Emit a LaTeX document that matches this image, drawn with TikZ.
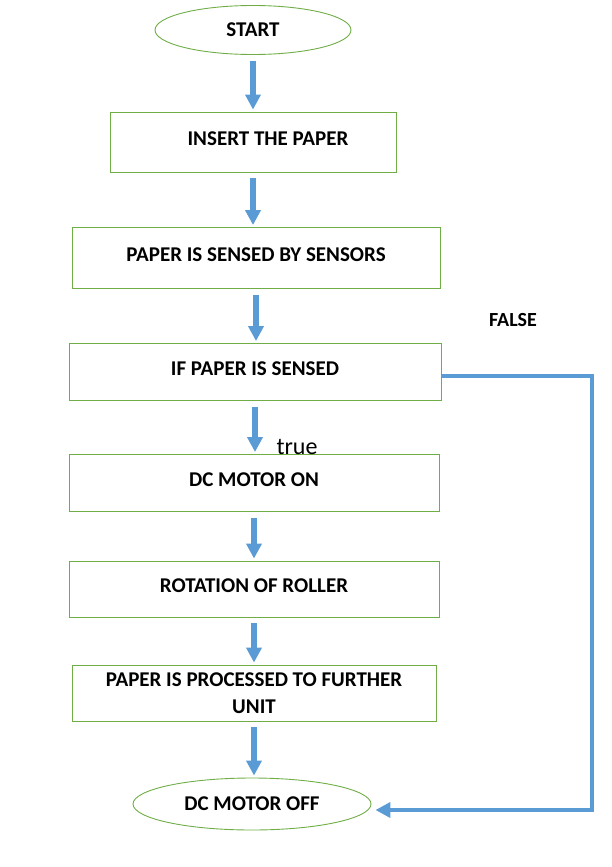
\documentclass[tikz,border=0pt]{standalone}
\usepackage{fontspec}
\setmainfont{Carlito}
\usetikzlibrary{arrows.meta,shapes.geometric}
\definecolor{boxgreen}{RGB}{112,173,71}
\definecolor{flowblue}{RGB}{91,155,213}
\begin{document}
\begin{tikzpicture}[x=1pt, y=-1pt,
    every node/.style={font=\fontsize{21}{27}\selectfont\bfseries},
    stepbox/.style={draw=boxgreen, line width=0.9pt, rectangle, align=center, inner sep=2pt, text depth=7pt},
    terminal/.style={draw=boxgreen, line width=0.9pt, ellipse, inner sep=0pt},
    flow/.style={draw=flowblue, line width=5.5pt, -{Triangle[width=15pt,length=15pt]}, shorten <=6pt, shorten >=2pt}]
  \useasboundingbox (0,0) rectangle (611,867);
  % terminals and steps
  \node[terminal, minimum width=196pt, minimum height=49pt] (start) at (253,30) {START};
  \node[stepbox, minimum width=286pt, minimum height=60pt] (insert) at (253,142) {\hspace*{30pt}INSERT THE PAPER};
  \node[stepbox, minimum width=368pt, minimum height=61pt] (sensed) at (256,258) {PAPER IS SENSED BY SENSORS};
  \node[stepbox, minimum width=372pt, minimum height=57pt] (check) at (255,372) {IF PAPER IS SENSED};
  \node[stepbox, minimum width=370pt, minimum height=57pt] (motoron) at (254,483) {DC MOTOR ON};
  \node[stepbox, minimum width=370pt, minimum height=56pt] (roller) at (254,589) {ROTATION OF ROLLER};
  \node[stepbox, inner ysep=0pt, minimum width=364pt, minimum height=56pt] (process) at (254,693) {\rule{0pt}{21pt}PAPER IS PROCESSED TO FURTHER\\UNIT};
  \node[terminal, minimum width=238pt, minimum height=52pt] (motoroff) at (252,804) {DC MOTOR OFF};
  % branch labels
  \node[font=\fontsize{20}{24}\selectfont\bfseries] (false) at (513,320) {FALSE};
  \node[font=\fontsize{24}{28}\selectfont] (true) at (297,447) {true};
  % main flow
  \foreach \a/\b in {start/insert, insert/sensed, sensed/check, check/motoron,
                     motoron/roller, roller/process, process/motoroff} {
    \draw[flow] (\a.south) -- (\a.south |- \b.north);
  }
  % false branch
  \coordinate (turn) at (592,376);
  \draw[flow, shorten <=0pt, shorten >=4pt, line width=4.5pt] (check.east |- turn) -- (turn) |- ([yshift=-6pt]motoroff.east);
\end{tikzpicture}
\end{document}
